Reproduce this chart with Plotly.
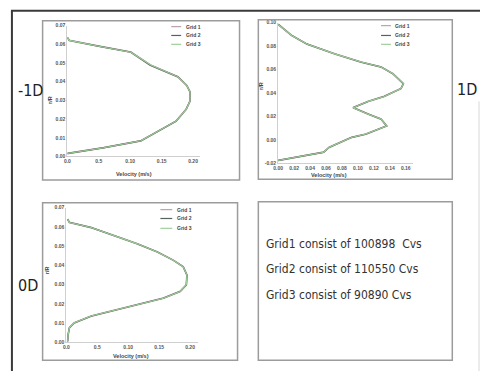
import plotly.graph_objects as go

# ---------------- data ----------------
GRID_NAMES = ["Grid 1", "Grid 2", "Grid 3"]

# -1D station (top-left)
R_M1D = [0.0637, 0.0621, 0.0590, 0.0558, 0.0489, 0.0426, 0.0380, 0.0347, 0.0295, 0.0252, 0.0189, 0.0084, 0.0047, 0.0016]
V_M1D_G1 = [0.000, 0.003, 0.050, 0.101, 0.132, 0.176, 0.190, 0.195, 0.195, 0.189, 0.173, 0.117, 0.058, 0.000]
V_M1D_G2 = [0.000, 0.003, 0.050, 0.101, 0.132, 0.176, 0.190, 0.195, 0.195, 0.189, 0.173, 0.117, 0.058, 0.000]
V_M1D_G3 = [0.000, 0.003, 0.050, 0.101, 0.133, 0.176, 0.190, 0.195, 0.195, 0.189, 0.173, 0.117, 0.058, 0.000]

# 1D station (top-right)
R_1D = [0.0986, 0.0891, 0.0818, 0.0734, 0.0664, 0.0622, 0.0564, 0.0480, 0.0438, 0.0371, 0.0329, 0.0275,
        0.0220, 0.0178, 0.0119, 0.0094, 0.0050, 0.0021, -0.0063, -0.0105, -0.0147, -0.0165, -0.0175]
V_1D_G1 = [0.000, 0.017, 0.036, 0.071, 0.104, 0.129, 0.144, 0.157, 0.154, 0.133, 0.113, 0.094,
           0.113, 0.129, 0.136, 0.127, 0.110, 0.092, 0.064, 0.057, 0.026, 0.008, 0.000]
V_1D_G2 = [0.000, 0.017, 0.036, 0.071, 0.104, 0.129, 0.144, 0.157, 0.154, 0.133, 0.113, 0.094,
           0.113, 0.129, 0.136, 0.127, 0.110, 0.092, 0.064, 0.057, 0.026, 0.008, 0.000]
V_1D_G3 = [0.000, 0.017, 0.036, 0.071, 0.104, 0.129, 0.144, 0.157, 0.154, 0.133, 0.113, 0.094,
           0.113, 0.129, 0.136, 0.127, 0.110, 0.092, 0.064, 0.057, 0.026, 0.008, 0.000]

# 0D station (bottom-left)
R_0D = [0.0640, 0.0623, 0.0597, 0.0555, 0.0512, 0.0470, 0.0427, 0.0393, 0.0350, 0.0299, 0.0265, 0.0230,
        0.0196, 0.0162, 0.0137, 0.0102, 0.0077, 0.0043, 0.0005]
V_0D_G1 = [0.002, 0.005, 0.040, 0.077, 0.115, 0.147, 0.173, 0.189, 0.195, 0.194, 0.184, 0.157,
           0.115, 0.072, 0.040, 0.013, 0.005, 0.003, 0.002]
V_0D_G2 = [0.002, 0.005, 0.040, 0.077, 0.115, 0.147, 0.173, 0.189, 0.195, 0.194, 0.184, 0.157,
           0.115, 0.072, 0.040, 0.013, 0.005, 0.003, 0.002]
V_0D_G3 = [0.002, 0.005, 0.040, 0.077, 0.115, 0.147, 0.173, 0.189, 0.195, 0.194, 0.184, 0.157,
           0.115, 0.072, 0.040, 0.013, 0.005, 0.003, 0.002]

# tick labels
Y_TICKS_07 = [0.00, 0.01, 0.02, 0.03, 0.04, 0.05, 0.06, 0.07]
Y_TEXT_07 = ["0.00", "0.01", "0.02", "0.03", "0.04", "0.05", "0.06", "0.07"]
X_TICKS_20 = [0.00, 0.05, 0.10, 0.15, 0.20]
X_TEXT_20 = ["0.0", "0.5", "0.10", "0.15", "0.20"]
Y_TICKS_1D = [-0.02, 0.00, 0.02, 0.04, 0.06, 0.08, 0.10]
Y_TEXT_1D = ["-0.02", "0.00", "0.02", "0.04", "0.06", "0.08", "0.10"]
X_TICKS_1D = [0.00, 0.02, 0.04, 0.06, 0.08, 0.10, 0.12, 0.14, 0.16]
X_TEXT_1D = ["0.00", "0.02", "0.04", "0.06", "0.08", "0.10", "0.12", "0.14", "0.16"]

STATION_LABELS = ["-1D", "1D", "0D"]
CV_TEXT = ["Grid1 consist of 100898  Cvs", "Grid2 consist of 110550 Cvs", "Grid3 consist of 90890 Cvs"]

# ---------------- styling / layout helpers ----------------
W, H = 480, 374
def px(x):
    return x / W
def py(y):
    return 1 - y / H

COLORS = ["#bba3a6", "#55635a", "#9fcf9b"]
WIDTHS = [1.8, 1.4, 1.1]
SMALL = "Liberation Sans, Arial, sans-serif"
TICKFONT = dict(family=SMALL, size=5, color="#555", weight="bold")
NARROW = "DejaVu Sans Condensed, Liberation Sans Narrow, sans-serif"

fig = go.Figure()

panels = [
    ("x", "y", R_M1D, [V_M1D_G1, V_M1D_G2, V_M1D_G3]),
    ("x2", "y2", R_1D, [V_1D_G1, V_1D_G2, V_1D_G3]),
    ("x3", "y3", R_0D, [V_0D_G1, V_0D_G2, V_0D_G3]),
]
for xa, ya, r, vels in panels:
    for i, v in enumerate(vels):
        fig.add_trace(go.Scatter(x=v, y=r, mode="lines", name=GRID_NAMES[i], xaxis=xa, yaxis=ya,
                                 line=dict(color=COLORS[i], width=WIDTHS[i]), showlegend=False,
                                 hoverinfo="skip"))

axis_common = dict(showgrid=False, zeroline=False, showline=True, linecolor="#cfcfcf", linewidth=1,
                   ticks="", tickfont=TICKFONT, fixedrange=True)

fig.update_layout(
    width=W, height=H, margin=dict(l=0, r=0, t=0, b=0),
    paper_bgcolor="white", plot_bgcolor="white", showlegend=False,
    xaxis=dict(domain=[px(63), px(197)], range=[0, 0.211], anchor="y",
               tickvals=X_TICKS_20, ticktext=X_TEXT_20, **axis_common),
    yaxis=dict(domain=[py(156), py(23)], range=[0, 0.07], anchor="x",
               tickvals=Y_TICKS_07, ticktext=Y_TEXT_07, **axis_common),
    xaxis2=dict(domain=[px(276), px(412)], range=[0, 0.1687], anchor="y2",
                tickvals=X_TICKS_1D, ticktext=X_TEXT_1D, **axis_common),
    yaxis2=dict(domain=[py(163), py(20)], range=[-0.02, 0.10], anchor="x2",
                tickvals=Y_TICKS_1D, ticktext=Y_TEXT_1D, **axis_common),
    xaxis3=dict(domain=[px(62), px(195)], range=[0, 0.2128], anchor="y3",
                tickvals=X_TICKS_20, ticktext=X_TEXT_20, **axis_common),
    yaxis3=dict(domain=[py(345), py(208)], range=[0, 0.07], anchor="x3",
                tickvals=Y_TICKS_07, ticktext=Y_TEXT_07, **axis_common),
)

shapes = []
annotations = []

# outer frame
shapes.append(dict(type="line", xref="paper", yref="paper", x0=px(6), x1=px(480), y0=py(8), y1=py(8),
                   line=dict(color="#3a3a3a", width=2)))
shapes.append(dict(type="line", xref="paper", yref="paper", x0=px(7), x1=px(7), y0=py(8), y1=py(374),
                   line=dict(color="#3a3a3a", width=2)))
shapes.append(dict(type="line", xref="paper", yref="paper", x0=px(479), x1=px(479), y0=py(100), y1=py(374),
                   line=dict(color="#d8d8d8", width=1)))

# panel boxes
for (x0, y0, x1, y1) in [(38, 18, 237, 180), (256, 17, 452, 179), (38, 203, 235, 363), (256, 202, 452, 363)]:
    shapes.append(dict(type="rect", xref="paper", yref="paper", x0=px(x0), x1=px(x1), y0=py(y0), y1=py(y1),
                       line=dict(color="#9c9c9c", width=1.5), fillcolor="rgba(0,0,0,0)"))

# legends (line sample + label) for each panel
legend_specs = [(168, 178, 181, [24, 33, 42]), (380, 390, 392, [23, 33, 42]), (157, 169, 172, [210, 219, 229])]
for lx0, lx1, tx, rows in legend_specs:
    for i, yy in enumerate(rows):
        shapes.append(dict(type="line", xref="paper", yref="paper", x0=px(lx0), x1=px(lx1), y0=py(yy), y1=py(yy),
                           line=dict(color=COLORS[i], width=1.2)))
        annotations.append(dict(x=px(tx), y=py(yy), xref="paper", yref="paper", text=GRID_NAMES[i],
                                showarrow=False, xanchor="left", yanchor="middle",
                                font=dict(family=SMALL, size=5, color="#444", weight="bold")))

# axis titles
for (x, y) in [(130, 174), (327, 175), (127, 359)]:
    annotations.append(dict(x=px(x), y=py(y), xref="paper", yref="paper", text="Velocity (m/s)",
                            showarrow=False, xanchor="center", yanchor="middle",
                            font=dict(family=SMALL, size=5.5, color="#444", weight="bold")))
for (x, y) in [(46, 99), (258, 84), (42, 272)]:
    annotations.append(dict(x=px(x), y=py(y), xref="paper", yref="paper", text="r/R", textangle=-90,
                            showarrow=False, xanchor="center", yanchor="middle",
                            font=dict(family=SMALL, size=5.5, color="#444", weight="bold")))

# station labels
for lab, (x, y, anc) in zip(STATION_LABELS, [(26, 89, "center"), (479, 88, "right"), (23, 287, "center")]):
    annotations.append(dict(x=px(x), y=py(y), xref="paper", yref="paper", text=lab, showarrow=False,
                            xanchor=anc, yanchor="middle",
                            font=dict(family=NARROW, size=16, color="#222")))

# grid description text
for t, y in zip(CV_TEXT, [245, 270, 297]):
    annotations.append(dict(x=px(262), y=py(y), xref="paper", yref="paper", text=t, showarrow=False,
                            xanchor="left", yanchor="middle",
                            font=dict(family=NARROW, size=12, color="#333")))

fig.update_layout(shapes=shapes, annotations=annotations)
fig.write_html("out.html")
